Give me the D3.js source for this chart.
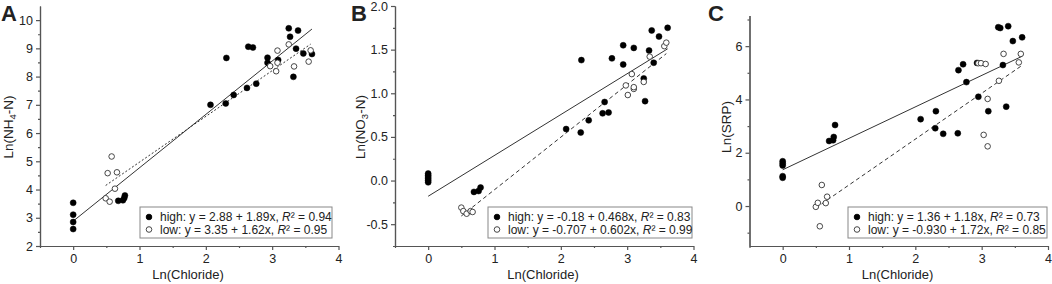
<!DOCTYPE html>
<html>
<head>
<meta charset="utf-8">
<script src="https://cdn.jsdelivr.net/npm/d3@7"></script>
<style>
  body { margin: 0; background: #fff; }
  text { font-family: "Liberation Sans", Arial, sans-serif; fill: #222; }
</style>
</head>
<body>
<div id="chart"></div>
<script>
// Ln(nutrient) vs Ln(Chloride), high / low groups, three panels

// Panel A - NH4-N
const chlHighA = [0, 0, 0, 0, 0.68, 0.75, 0.77, 0.78, 2.07, 2.30, 2.31, 2.42, 2.62, 2.76, 2.64, 2.71, 2.93, 2.93, 3.09, 3.25, 3.27, 3.39, 3.36, 3.32, 3.47, 3.60];
const nh4High  = [3.53, 3.11, 2.85, 2.60, 3.60, 3.62, 3.70, 3.79, 7.00, 7.05, 8.66, 7.35, 7.60, 7.75, 9.06, 9.03, 8.67, 8.49, 8.59, 9.71, 9.41, 9.63, 8.99, 7.99, 8.82, 8.80];
const chlLowA  = [0.49, 0.55, 0.63, 0.52, 0.58, 0.66, 2.97, 3.06, 3.08, 3.08, 3.25, 3.33, 3.55, 3.58];
const nh4Low   = [3.69, 3.57, 4.03, 4.58, 5.17, 4.61, 8.37, 8.19, 8.49, 8.92, 9.14, 8.36, 8.53, 8.93];

// Panel B - NO3-N
const chlHighB = [0, 0, 0, 0, 0, 0, 0.69, 0.76, 0.79, 2.08, 2.30, 2.31, 2.42, 2.63, 2.72, 2.66, 2.77, 2.94, 2.94, 3.10, 3.25, 3.27, 3.33, 3.37, 3.40, 3.48, 3.61];
const no3High  = [0.08, 0.06, 0.04, 0.02, 0.00, -0.02, -0.13, -0.12, -0.08, 0.59, 0.55, 1.38, 0.69, 0.77, 0.78, 0.90, 1.40, 1.55, 1.33, 1.52, 1.17, 0.91, 1.49, 1.72, 1.35, 1.65, 1.75];
const chlLowB  = [0.50, 0.53, 0.58, 0.64, 0.67, 2.98, 3.01, 3.07, 3.10, 3.10, 3.25, 3.34, 3.56, 3.59];
const no3Low   = [-0.31, -0.35, -0.38, -0.35, -0.36, 1.09, 0.98, 1.22, 1.05, 1.07, 1.13, 1.42, 1.54, 1.58];

// Panel C - SRP
const chlHighC = [0, 0, 0, 0, 0, 0.70, 0.76, 0.77, 0.79, 2.08, 2.31, 2.30, 2.42, 2.64, 2.65, 2.72, 2.77, 2.95, 2.93, 3.10, 3.32, 3.37, 3.25, 3.28, 3.40, 3.47, 3.61];
const srpHigh  = [1.68, 1.60, 1.52, 1.12, 1.06, 2.44, 2.47, 2.59, 3.04, 3.26, 3.56, 2.92, 2.71, 2.73, 5.10, 5.32, 4.65, 4.10, 5.37, 3.56, 5.29, 3.73, 6.71, 6.68, 6.75, 6.19, 6.33];
const chlLowC  = [0.50, 0.53, 0.59, 0.56, 0.65, 0.67, 2.95, 2.99, 3.06, 3.03, 3.09, 3.09, 3.26, 3.33, 3.56, 3.59];
const srpLow   = [-0.03, 0.12, 0.79, -0.76, 0.11, 0.35, 5.36, 5.36, 5.33, 2.67, 2.24, 4.02, 4.70, 5.71, 5.39, 5.71];

// fit coefficients [intercept, slope, R2] and their printed labels
const fitHigh = [[2.88, 1.89, 0.94], [-0.18, 0.468, 0.83], [1.36, 1.18, 0.73]];
const fitLow  = [[3.35, 1.62, 0.95], [-0.707, 0.602, 0.99], [-0.930, 1.72, 0.85]];
const fitHighText = [["2.88", "1.89x", "0.94"], ["-0.18", "0.468x", "0.83"], ["1.36", "1.18x", "0.73"]];
const fitLowText  = [["3.35", "1.62x", "0.95"], ["-0.707", "0.602x", "0.99"], ["-0.930", "1.72x", "0.85"]];

const panelLetters = ["A", "B", "C"];
const yLabelMain = [["Ln(NH", "4", "-N)"], ["Ln(NO", "3", "-N)"], ["Ln(SRP)", "", ""]];
const yDomains = [[2, 10.5], [-0.75, 2.0], [-1.5, 7.15]];
const yMajorTicks = [[2, 3, 4, 5, 6, 7, 8, 9, 10], [-0.5, 0.0, 0.5, 1.0, 1.5, 2.0], [0, 2, 4, 6]];
const yMinorTicks = [[2.5, 3.5, 4.5, 5.5, 6.5, 7.5, 8.5, 9.5], [-0.75, -0.25, 0.25, 0.75, 1.25, 1.75], [-1, 1, 3, 5, 7]];
const xMajorTicks = [0, 1, 2, 3, 4];
const xMinorTicks = [-0.5, 0.5, 1.5, 2.5, 3.5];

const panels = [
  { xHigh: chlHighA, yHigh: nh4High, xLow: chlLowA, yLow: nh4Low, left: 40, yTop: 6, lowDash: "2,2", fmt: d => d, ylx: 13, legend: [140, 192] },
  { xHigh: chlHighB, yHigh: no3High, xLow: chlLowB, yLow: no3Low, left: 395, yTop: 6, lowDash: "4,3", fmt: d => d.toFixed(1), ylx: 365, legend: [488, 204] },
  { xHigh: chlHighC, yHigh: srpHigh, xLow: chlLowC, yLow: srpLow, left: 749.5, yTop: 15.5, lowDash: "4,3", fmt: d => d, ylx: 731, legend: [848, 199] }
];

const plotW = 298.5;
const axisY = 246;

const svg = d3.select('#chart')
  .append('svg')
  .attr('width', 1052)
  .attr('height', 284);

panels.forEach((p, i) => {
  const x = d3.scaleLinear().domain([-0.5, 4]).range([p.left, p.left + plotW]);
  const y = d3.scaleLinear().domain(yDomains[i]).range([axisY, p.yTop]);
  const g = svg.append('g');

  // axes: major + minor ticks
  g.append('g').attr('transform', `translate(0,${axisY})`)
    .call(d3.axisBottom(x).tickValues(xMajorTicks).tickSize(4).tickSizeOuter(0).tickPadding(4).tickFormat(d => d));
  g.append('g').attr('transform', `translate(0,${axisY})`)
    .call(d3.axisBottom(x).tickValues(xMinorTicks).tickSize(2).tickSizeOuter(0).tickFormat(''));
  g.append('g').attr('transform', `translate(${p.left},0)`)
    .call(d3.axisLeft(y).tickValues(yMajorTicks[i]).tickSize(4).tickSizeOuter(0).tickPadding(3).tickFormat(p.fmt));
  g.append('g').attr('transform', `translate(${p.left},0)`)
    .call(d3.axisLeft(y).tickValues(yMinorTicks[i]).tickSize(2).tickSizeOuter(0).tickFormat(''));

  g.selectAll('.domain, .tick line').attr('stroke', '#555').attr('stroke-width', 1.2);
  g.selectAll('.tick text').attr('font-size', 12.5).attr('fill', '#222')
    .attr('font-family', '"Liberation Sans", Arial, sans-serif');

  // regression lines
  const hExt = d3.extent(p.xHigh);
  const lExt = d3.extent(p.xLow);
  const fh = fitHigh[i], fl = fitLow[i];
  g.append('line')
    .attr('x1', x(hExt[0])).attr('y1', y(fh[0] + fh[1] * hExt[0]))
    .attr('x2', x(hExt[1])).attr('y2', y(fh[0] + fh[1] * hExt[1]))
    .attr('stroke', '#333').attr('stroke-width', 1);
  g.append('line')
    .attr('x1', x(lExt[0])).attr('y1', y(fl[0] + fl[1] * lExt[0]))
    .attr('x2', x(lExt[1])).attr('y2', y(fl[0] + fl[1] * lExt[1]))
    .attr('stroke', '#333').attr('stroke-width', 1).attr('stroke-dasharray', p.lowDash);

  // points
  g.selectAll('.high').data(p.xHigh.map((v, k) => [v, p.yHigh[k]]))
    .enter().append('circle')
    .attr('cx', d => x(d[0])).attr('cy', d => y(d[1])).attr('r', 3)
    .attr('fill', '#000').attr('stroke', '#000').attr('stroke-width', 0.5);
  g.selectAll('.low').data(p.xLow.map((v, k) => [v, p.yLow[k]]))
    .enter().append('circle')
    .attr('cx', d => x(d[0])).attr('cy', d => y(d[1])).attr('r', 2.8)
    .attr('fill', '#fff').attr('stroke', '#333').attr('stroke-width', 0.9);

  // legend
  const lx = p.legend[0], lw = p.legend[1];
  g.append('rect').attr('x', lx).attr('y', 207).attr('width', lw).attr('height', 31)
    .attr('fill', '#fff').attr('stroke', '#888').attr('stroke-width', 1);
  [[fitHighText[i], 'high', true], [fitLowText[i], 'low', false]].forEach((row, r) => {
    const cy = 217 + r * 12.5;
    g.append('circle').attr('cx', lx + 9).attr('cy', cy).attr('r', 2.8)
      .attr('fill', row[2] ? '#000' : '#fff').attr('stroke', row[2] ? '#000' : '#333').attr('stroke-width', 0.9);
    const t = g.append('text').attr('x', lx + 20).attr('y', cy + 4.3).attr('font-size', 12);
    t.append('tspan').text(`${row[1]}: y = ${row[0][0]} + ${row[0][1]}, `);
    t.append('tspan').attr('font-style', 'italic').text('R');
    t.append('tspan').text(`\u00b2 = ${row[0][2]}`);
  });

  // axis titles
  svg.append('text').attr('x', p.left + 148).attr('y', 279)
    .attr('text-anchor', 'middle').attr('font-size', 13).text('Ln(Chloride)');
  const yl = svg.append('text')
    .attr('transform', `translate(${p.ylx},127) rotate(-90)`)
    .attr('text-anchor', 'middle').attr('font-size', 13.5);
  yl.append('tspan').text(yLabelMain[i][0]);
  if (yLabelMain[i][1]) {
    yl.append('tspan').attr('font-size', 9.5).attr('dy', 3).text(yLabelMain[i][1]);
    yl.append('tspan').attr('dy', -3).text(yLabelMain[i][2]);
  }

  // panel letter
  svg.append('text').attr('x', [1, 351, 708][i]).attr('y', 21)
    .attr('font-size', 22).attr('font-weight', 'bold').attr('fill', '#000').text(panelLetters[i]);
});
</script>
</body>
</html>
